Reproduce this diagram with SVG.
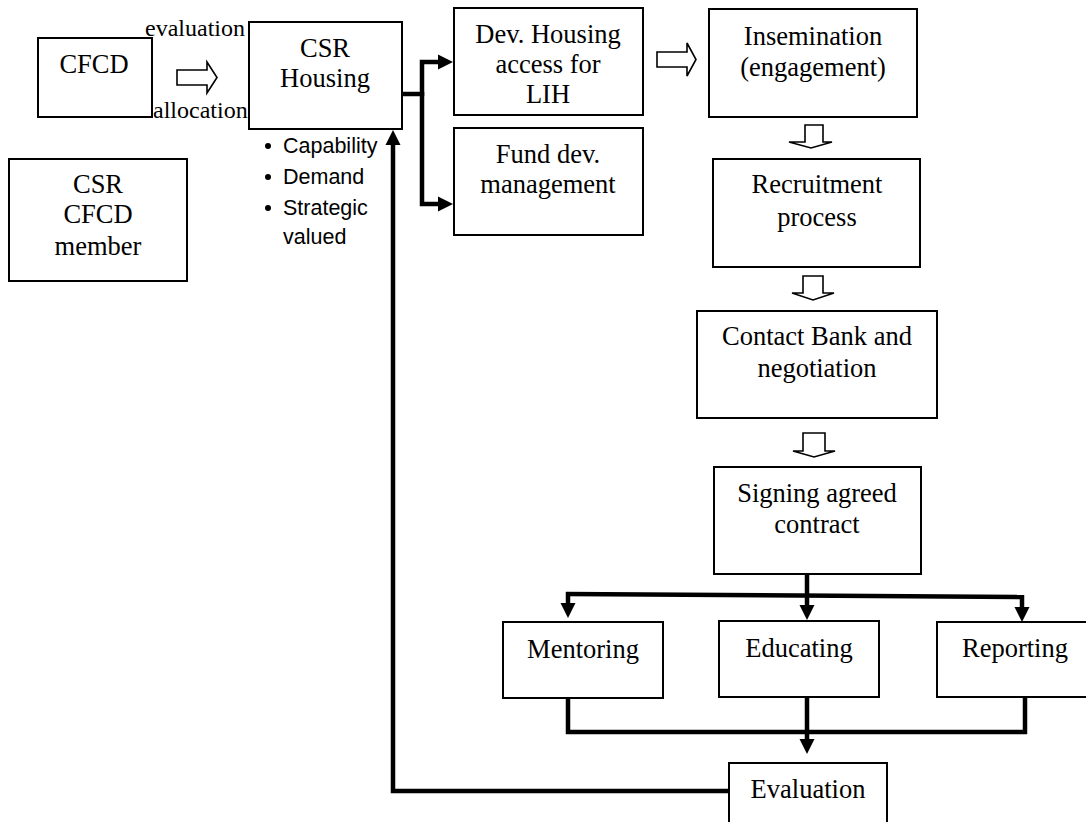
<svg xmlns="http://www.w3.org/2000/svg" width="1086" height="822" viewBox="0 0 1086 822">
<style>
.box{fill:#fff;stroke:#000;stroke-width:2}
.t{font-family:"Liberation Serif","Times New Roman",serif;font-size:26.5px;fill:#000;text-anchor:middle}
.s{font-family:"Liberation Serif","Times New Roman",serif;font-size:24px;fill:#000}
.b{font-family:"Liberation Sans",Arial,sans-serif;font-size:21.5px;fill:#000}
.c{fill:none;stroke:#000;stroke-width:4.5}
.blk{fill:#fff;stroke:#000;stroke-width:1.6;stroke-linejoin:miter}
</style>
<defs>
<marker id="ah" markerUnits="userSpaceOnUse" markerWidth="16" markerHeight="16" refX="0" refY="7.5" orient="auto" overflow="visible">
<path d="M0,0 L15,7.5 L0,15 z" fill="#000"/>
</marker>
</defs>
<rect width="1086" height="822" fill="#fff"/>

<g id="connectors">
<path class="c" d="M402,94 H422"/>
<path class="c" d="M422,96 V62 H438" marker-end="url(#ah)"/>
<path class="c" d="M422,92 V204 H438" marker-end="url(#ah)"/>
<path class="c" d="M729,791 H393 V145" marker-end="url(#ah)"/>
<path class="c" d="M807,574 V605" marker-end="url(#ah)"/>
<path class="c" d="M566,594 L1024,597"/>
<path class="c" d="M568,592 V603" marker-end="url(#ah)"/>
<path class="c" d="M1022,595 V607" marker-end="url(#ah)"/>
<path class="c" d="M568,698 V732 H1027"/>
<path class="c" d="M1025,696 V734"/>
<path class="c" d="M807,697 V739" marker-end="url(#ah)"/>
<polygon class="blk" points="177,70 207,70 207,62 217,77.5 207,93 207,85 177,85"/>
<polygon class="blk" points="657,52 687,52 687,43 696,59.5 687,76 687,67 657,67"/>
<polygon class="blk" points="805,125 823,125 823,142 832,142 811,148 789,142 805,142"/>
<polygon class="blk" points="803,276 823,276 823,293 834,293 813,300 792,293 803,293"/>
<polygon class="blk" points="803,433 825,433 825,451 835,451 814,457 793,451 803,451"/>
<text class="s" x="145" y="36">evaluation</text>
<text class="s" x="153" y="118">allocation</text>
</g>

<g id="cfcd">
<rect class="box" x="38" y="38" width="114" height="79"/>
<text class="t" x="94" y="73">CFCD</text>
</g>
<g id="csr-cfcd-member">
<rect class="box" x="9" y="159" width="178" height="122"/>
<text class="t" x="98" y="193">CSR</text>
<text class="t" x="98" y="223">CFCD</text>
<text class="t" x="98" y="255">member</text>
</g>
<g id="csr-housing">
<rect class="box" x="249" y="22" width="153" height="107"/>
<text class="t" x="325" y="57">CSR</text>
<text class="t" x="325" y="87">Housing</text>
</g>
<g id="criteria">
<circle cx="268" cy="146" r="3"/>
<circle cx="268" cy="177" r="3"/>
<circle cx="268" cy="208" r="3"/>
<text class="b" x="283" y="153">Capability</text>
<text class="b" x="283" y="184">Demand</text>
<text class="b" x="283" y="215">Strategic</text>
<text class="b" x="283" y="244">valued</text>
</g>
<g id="dev-housing">
<rect class="box" x="454" y="8" width="189" height="107"/>
<text class="t" x="548" y="43">Dev. Housing</text>
<text class="t" x="548" y="73">access for</text>
<text class="t" x="548" y="103">LIH</text>
</g>
<g id="fund-dev">
<rect class="box" x="454" y="128" width="189" height="107"/>
<text class="t" x="548" y="163">Fund dev.</text>
<text class="t" x="548" y="193">management</text>
</g>
<g id="insemination">
<rect class="box" x="709" y="9" width="208" height="108"/>
<text class="t" x="813" y="45">Insemination</text>
<text class="t" x="813" y="76">(engagement)</text>
</g>
<g id="recruitment">
<rect class="box" x="713" y="159" width="207" height="108"/>
<text class="t" x="817" y="193">Recruitment</text>
<text class="t" x="817" y="226">process</text>
</g>
<g id="contact-bank">
<rect class="box" x="697" y="311" width="240" height="107"/>
<text class="t" x="817" y="345">Contact Bank and</text>
<text class="t" x="817" y="377">negotiation</text>
</g>
<g id="signing">
<rect class="box" x="714" y="467" width="207" height="107"/>
<text class="t" x="817" y="502">Signing agreed</text>
<text class="t" x="817" y="533">contract</text>
</g>
<g id="mentoring">
<rect class="box" x="503" y="622" width="160" height="76"/>
<text class="t" x="583" y="658">Mentoring</text>
</g>
<g id="educating">
<rect class="box" x="719" y="621" width="160" height="76"/>
<text class="t" x="799" y="657">Educating</text>
</g>
<g id="reporting">
<rect class="box" x="937" y="622" width="160" height="75"/>
<text class="t" x="1015" y="657">Reporting</text>
</g>
<g id="evaluation">
<rect class="box" x="729" y="763" width="158" height="70"/>
<text class="t" x="808" y="798">Evaluation</text>
</g>
</svg>
